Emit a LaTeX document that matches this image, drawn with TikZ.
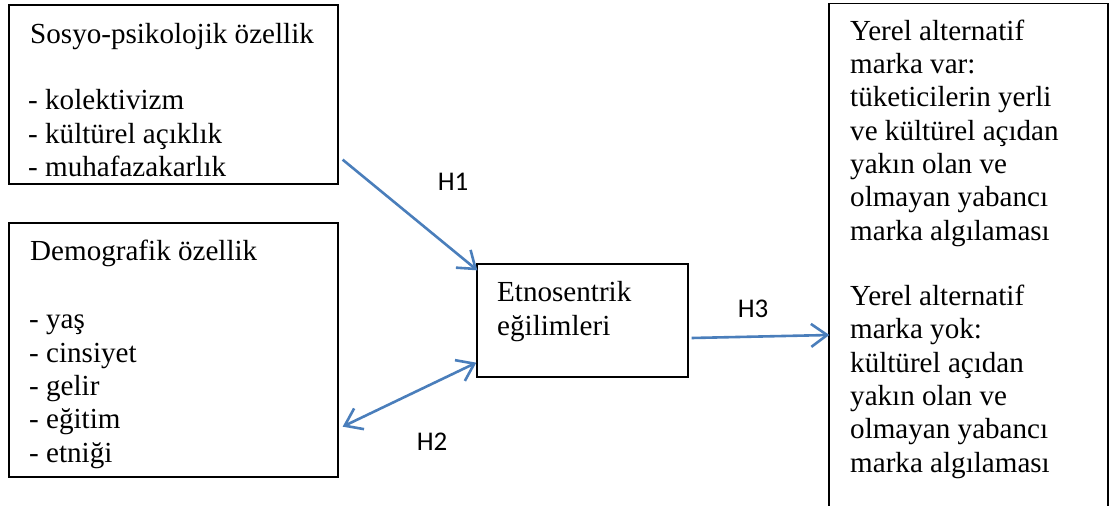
\documentclass[tikz,border=0pt]{standalone}
\usepackage{fontspec}
\setmainfont{Liberation Serif}
\newfontfamily\hfont{Carlito}
\usetikzlibrary{arrows.meta}
\definecolor{arr}{HTML}{4A7EBB}
\begin{document}
\begin{tikzpicture}[x=1pt,y=-1pt,
  box/.style={draw=black, line width=1.3pt, inner sep=0pt},
  txt/.style={anchor=base west, inner sep=0pt, align=left, font=\fontsize{29.1}{33.3}\selectfont},
  hl/.style={anchor=base, inner sep=0pt, font=\hfont\fontsize{27}{30}\selectfont},
  conn/.style={draw=arr, line width=2.6pt, -{Straight Barb[length=16pt,width=23pt]}},
  conn2/.style={draw=arr, line width=2.6pt, {Straight Barb[length=16pt,width=23pt]}-{Straight Barb[length=16pt,width=23pt]}}]
\useasboundingbox (0,0) rectangle (1112,506);
% boxes
\node[box, minimum width=329pt, minimum height=179pt] (b1) at (173.5,94.5) {};
\node[box, minimum width=329pt, minimum height=254pt] (b2) at (173.5,350) {};
\node[box, minimum width=211pt, minimum height=113pt] (c) at (582.5,320.5) {};
\node[box, minimum width=279pt, minimum height=505pt] (r) at (968.5,256) {};
% texts (base = baseline of last line)
\node[txt] (t1a) at (30,43) {Sosyo-psikolojik özellik};
\node[txt] (t1b) at (28,176.5) {- kolektivizm\\- kültürel açıklık\\- muhafazakarlık};
\node[txt] (t2a) at (30,260) {Demografik özellik};
\node[txt] (t2b) at (29,462) {- yaş\\- cinsiyet\\- gelir\\- eğitim\\- etniği};
\node[txt] (tc) at (497,335) {Etnosentrik\\eğilimleri};
\node[txt] (tr1) at (850,240) {Yerel alternatif\\marka var:\\tüketicilerin yerli\\ve kültürel açıdan\\yakın olan ve\\olmayan yabancı\\marka algılaması};
\node[txt] (tr2) at (850,472) {Yerel alternatif\\marka yok:\\kültürel açıdan\\yakın olan ve\\olmayan yabancı\\marka algılaması};
% connectors
\draw[conn] ([shift={(4,-25)}]b1.south east) -- ([shift={(1,7)}]c.north west);
\draw[conn2] ([shift={(4,-51)}]b2.south east) -- ([shift={(0,-15)}]c.south west);
\draw[conn] ([shift={(3,17.5)}]c.east) -- ([shift={(1,79)}]r.west);
% labels
\node[hl] (h1) at (453,190) {H1};
\node[hl] (h2) at (432,450) {H2};
\node[hl] (h3) at (753,317) {H3};
\end{tikzpicture}
\end{document}
